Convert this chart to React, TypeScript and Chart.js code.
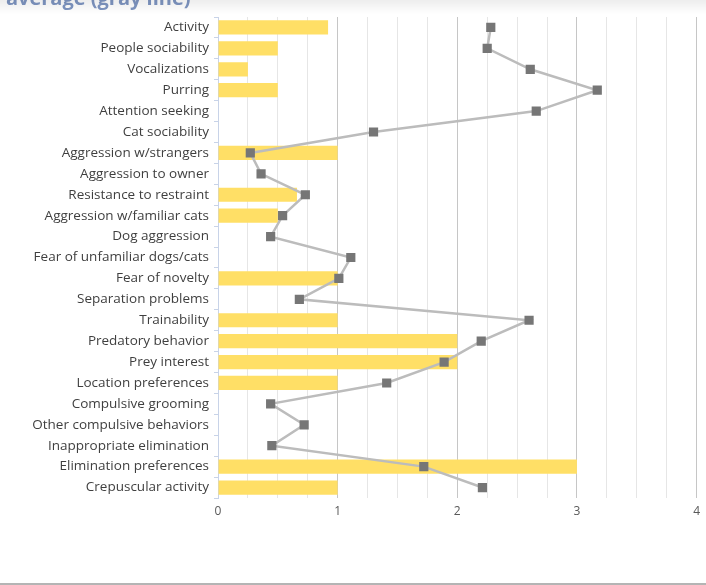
import React, { useEffect, useRef } from "react";
import { Chart, registerables } from "chart.js";

Chart.register(...registerables);

const categories = [
  "Activity",
  "People sociability",
  "Vocalizations",
  "Purring",
  "Attention seeking",
  "Cat sociability",
  "Aggression w/strangers",
  "Aggression to owner",
  "Resistance to restraint",
  "Aggression w/familiar cats",
  "Dog aggression",
  "Fear of unfamiliar dogs/cats",
  "Fear of novelty",
  "Separation problems",
  "Trainability",
  "Predatory behavior",
  "Prey interest",
  "Location preferences",
  "Compulsive grooming",
  "Other compulsive behaviors",
  "Inappropriate elimination",
  "Elimination preferences",
  "Crepuscular activity",
];

// yellow bars
const catScores = [
  0.92, 0.5, 0.25, 0.5, 0, 0, 1, 0, 0.66, 0.5, 0, 0, 1, 0, 1, 2, 2, 1, 0, 0, 0, 3, 1,
];

// gray line (average)
const averageScores = [
  2.28, 2.25, 2.61, 3.17, 2.66, 1.3, 0.27, 0.36, 0.73, 0.54, 0.44, 1.11, 1.01, 0.68,
  2.6, 2.2, 1.89, 1.41, 0.44, 0.72, 0.45, 1.72, 2.21,
];

const xMin = 0;
const xMax = 4;
const xStep = 0.25;

const FONT = "'Open Sans', sans-serif";

export default function App() {
  const ref = useRef<HTMLCanvasElement>(null);

  useEffect(() => {
    if (!ref.current) return;
    const chart = new Chart(ref.current, {
      type: "bar",
      data: {
        labels: categories,
        datasets: [
          {
            type: "line",
            label: "Average",
            data: averageScores,
            indexAxis: "y",
            borderColor: "#bcbcbc",
            borderWidth: 2.5,
            pointStyle: "rect",
            pointRadius: 6.5,
            pointBackgroundColor: "#767676",
            pointBorderColor: "#767676",
            pointBorderWidth: 0,
            tension: 0,
            order: 0,
          } as any,
          {
            type: "bar",
            label: "Cat",
            data: catScores,
            backgroundColor: "#ffdf66",
            barPercentage: 0.68,
            categoryPercentage: 1,
            order: 1,
          } as any,
        ],
      },
      options: {
        indexAxis: "y",
        animation: false,
        responsive: false,
        maintainAspectRatio: false,
        layout: { padding: { top: 17, right: 6, left: 0, bottom: 0 } },
        plugins: {
          legend: { display: false },
          tooltip: { enabled: false },
        },
        scales: {
          x: {
            type: "linear",
            min: xMin,
            max: xMax,
            border: { display: false },
            grid: {
              drawTicks: false,
              lineWidth: 1,
              color: (ctx: any) =>
                ctx.tick && Number.isInteger(ctx.tick.value) ? "#c6c6c6" : "#e6e6e6",
            },
            ticks: {
              stepSize: xStep,
              autoSkip: false,
              padding: 6,
              maxRotation: 0,
              color: "#595959",
              font: { family: FONT, size: 12 },
              callback: (v: any) => (Number.isInteger(v) ? String(v) : ""),
            },
            afterFit: (s: any) => {
              s.height = 87;
            },
          },
          y: {
            type: "category",
            border: { display: true, color: "#c8d3e8", width: 1 },
            grid: {
              display: true,
              drawOnChartArea: false,
              drawTicks: true,
              tickLength: 4,
              color: "#c8d3e8",
            },
            ticks: {
              autoSkip: false,
              padding: 5,
              color: "#3f3f3f",
              font: { family: FONT, size: 13.5 },
            },
            afterFit: (s: any) => {
              s.width = 218;
            },
          },
        },
      },
    });
    return () => chart.destroy();
  }, []);

  return (
    <div
      style={{
        position: "absolute",
        left: 0,
        top: 0,
        width: 706,
        height: 585,
        overflow: "hidden",
        background: "#ffffff",
      }}
    >
      <canvas ref={ref} width={706} height={585} style={{ position: "absolute", left: 0, top: 0 }} />
      <div
        style={{
          position: "absolute",
          left: 6,
          top: -15,
          fontFamily: FONT,
          fontWeight: 700,
          fontSize: 20,
          lineHeight: "26px",
          color: "#7e95c1",
          whiteSpace: "nowrap",
        }}
      >
        average (gray line)
      </div>
      <div
        style={{
          position: "absolute",
          left: 0,
          top: 0,
          width: 706,
          height: 14,
          background: "linear-gradient(rgba(0,0,0,0.07), rgba(0,0,0,0))",
        }}
      />
      <div
        style={{
          position: "absolute",
          left: 0,
          top: 583,
          width: 706,
          height: 2,
          background: "#b4b4b4",
        }}
      />
    </div>
  );
}
